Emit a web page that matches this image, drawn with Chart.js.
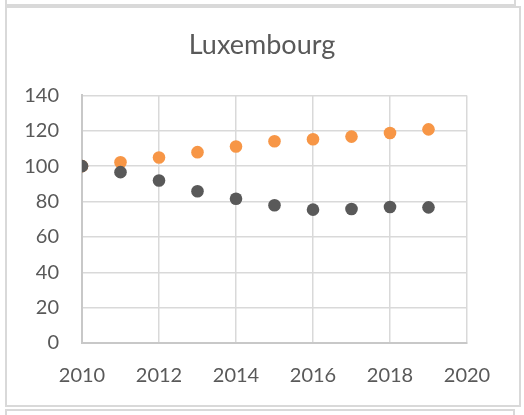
<!DOCTYPE html>
<html lang="en">
<head>
  <meta charset="UTF-8" />
  <title>Luxembourg</title>
  <script src="https://cdn.jsdelivr.net/npm/chart.js"></script>
  <style>
    body {
      margin: 0;
      background: #fff;
      width: 524px;
      height: 415px;
      overflow: hidden;
      position: relative;
    }
    .box {
      position: absolute;
      border: 2px solid #d9d9d9;
      box-sizing: border-box;
    }
    #chartWrap {
      position: absolute;
      left: 0;
      top: 0;
      width: 524px;
      height: 415px;
    }
  </style>
</head>
<body>
  <!-- neighbouring boxes, cropped at the edges -->
  <div class="box" style="left:5px; top:-10px; width:511px; height:16px;"></div>
  <div class="box" style="left:5px; top:6px; width:516px; height:401px;"></div>
  <div class="box" style="left:5px; top:409px; width:510px; height:20px;"></div>

  <div id="chartWrap"><canvas id="chart" width="524" height="415"></canvas></div>

  <script>
    const years = [2010, 2011, 2012, 2013, 2014, 2015, 2016, 2017, 2018, 2019];
    const greySeries = [100, 96.6, 91.9, 85.8, 81.6, 77.9, 75.4, 75.8, 76.9, 76.7];
    const orangeSeries = [100, 102.2, 104.9, 107.9, 111.1, 114.1, 115.2, 116.7, 118.7, 120.8];
    const titleText = 'Luxembourg';

    const textColor = '#595959';
    const gridColor = '#d9d9d9';
    const axisColor = '#c8c8c8';

    function toPoints(values) {
      return years.map((y, i) => ({ x: y, y: values[i] }));
    }

    const ctx = document.getElementById('chart').getContext('2d');
    new Chart(ctx, {
      type: 'scatter',
      data: {
        datasets: [
          { label: 'grey', data: toPoints(greySeries), backgroundColor: '#595959', borderColor: '#595959', pointRadius: 6.3, pointBorderWidth: 0 },
          { label: 'orange', data: toPoints(orangeSeries), backgroundColor: '#f79646', borderColor: '#f79646', pointRadius: 6.3, pointBorderWidth: 0 }
        ]
      },
      options: {
        responsive: false,
        animation: false,
        layout: { padding: 0 },
        plugins: {
          legend: { display: false },
          tooltip: { enabled: false },
          title: {
            display: true,
            text: titleText,
            color: textColor,
            font: { family: 'Lato', size: 27, weight: 'normal' },
            padding: { top: 29, bottom: 34 }
          }
        },
        scales: {
          x: {
            type: 'linear',
            min: 2010,
            max: 2020,
            ticks: {
              stepSize: 2,
              color: textColor,
              font: { family: 'Lato', size: 20 },
              padding: 21,
              maxRotation: 0,
              callback: v => String(v)
            },
            grid: { color: gridColor, lineWidth: 1.5, drawTicks: false },
            border: { color: axisColor, width: 2 },
            afterFit: scale => { scale.height = 72; }
          },
          y: {
            min: 0,
            max: 140,
            ticks: {
              stepSize: 20,
              color: textColor,
              font: { family: 'Lato', size: 20 },
              padding: 23
            },
            grid: { color: gridColor, lineWidth: 1.5, drawTicks: false },
            border: { color: axisColor, width: 2 },
            afterFit: scale => { scale.width = 82; }
          },
          // empty right-hand margin so the title stays centred on the frame
          spacer: {
            position: 'right',
            min: 0,
            max: 140,
            ticks: { display: false },
            grid: { display: false, drawTicks: false },
            border: { display: false },
            afterFit: scale => { scale.width = 57; }
          }
        }
      }
    });
  </script>
</body>
</html>
